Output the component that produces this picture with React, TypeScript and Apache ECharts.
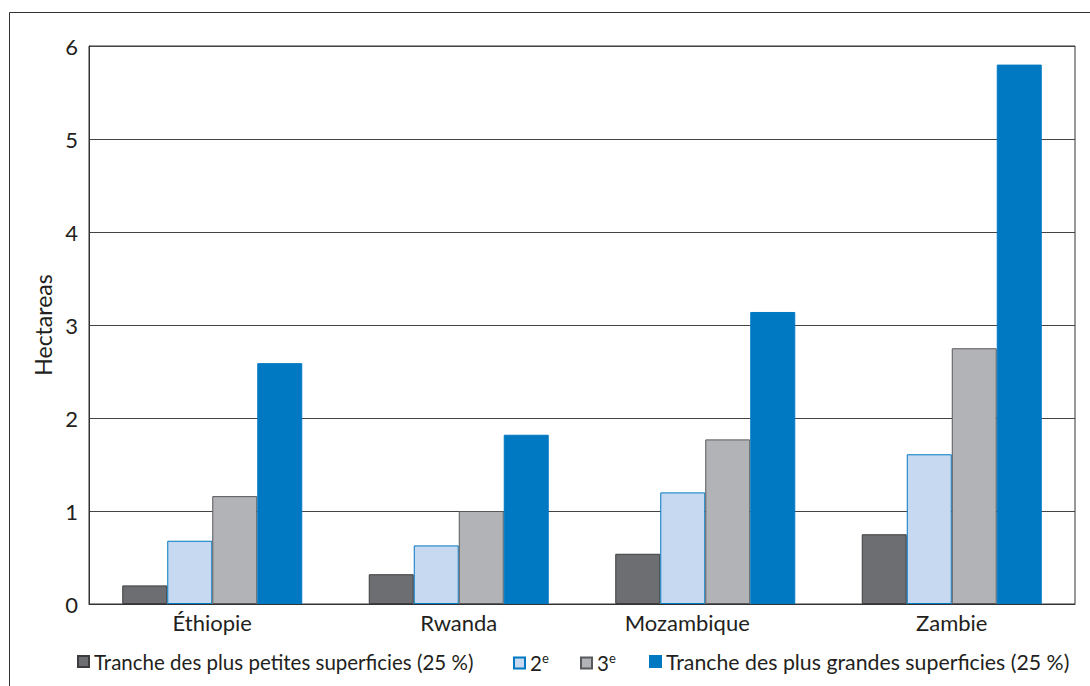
import React, { useEffect, useRef } from "react";
import * as echarts from "echarts";

const countries = ["Éthiopie", "Rwanda", "Mozambique", "Zambie"];
const smallest = [0.2, 0.32, 0.54, 0.75];
const second = [0.68, 0.63, 1.2, 1.61];
const third = [1.16, 1.0, 1.77, 2.75];
const largest = [2.59, 1.82, 3.14, 5.8];
const seriesNames = [
  "Tranche des plus petites superficies (25 %)",
  "2e",
  "3e",
  "Tranche des plus grandes superficies (25 %)",
];
const yTicks = [0, 1, 2, 3, 4, 5, 6];

const FONT = "Lato";
const INK = "#231f20";

export default function App() {
  const ref = useRef<HTMLDivElement>(null);

  useEffect(() => {
    if (!ref.current) return;
    const chart = echarts.init(ref.current, null, { renderer: "svg" });

    const fills = ["#6d6e71", "#c6d9f1", "#b1b3b6", "#0079c2"];
    const borders = ["#3d3d3f", "#0079c2", "#58595b", "#0079c2"];
    const values = [smallest, second, third, largest];

    const legendLabel = (name: string) => {
      if (name === "2e") return "2{sup|e}";
      if (name === "3e") return "3{sup|e}";
      return name;
    };
    const legendLefts = [77, 513, 580, 649];

    // Mozambique's label sits a little left of its group
    const categoryData = countries.map((c) =>
      c === "Mozambique"
        ? { value: c, textStyle: { padding: [0, 36, 0, 0] } }
        : c
    );

    chart.setOption({
      animation: false,
      backgroundColor: "#ffffff",
      graphic: [
        {
          type: "rect",
          shape: { x: 9.5, y: 12.5, width: 1100, height: 700 },
          style: { fill: "none", stroke: "#333333", lineWidth: 1 },
          silent: true,
          z: -1,
        },
      ],
      legend: seriesNames.map((n, i) => ({
        data: [n],
        left: legendLefts[i],
        top: 651,
        padding: 0,
        itemWidth: 11,
        itemHeight: 11,
        itemGap: 8,
        icon: "rect",
        formatter: legendLabel,
        textStyle: {
          fontFamily: FONT,
          fontSize: i === 3 ? 21.3 : 20.5,
          color: INK,
          rich: {
            sup: {
              fontFamily: FONT,
              fontSize: 13,
              color: INK,
              padding: [0, 0, 11, 0],
            },
          },
        },
      })),
      grid: {
        left: 89,
        top: 46,
        right: 15,
        bottom: 82,
        show: true,
        borderColor: "#333333",
        borderWidth: 1,
      },
      xAxis: {
        type: "category",
        data: categoryData,
        axisTick: { show: false },
        axisLine: { lineStyle: { color: "#333333", width: 1 } },
        axisLabel: {
          fontFamily: FONT,
          fontSize: 22,
          color: INK,
          margin: 7,
        },
      },
      yAxis: {
        type: "value",
        min: yTicks[0],
        max: yTicks[yTicks.length - 1],
        interval: 1,
        name: "Hectareas",
        nameLocation: "middle",
        nameGap: 32,
        nameTextStyle: { fontFamily: FONT, fontSize: 23, color: INK },
        axisLine: { show: true, lineStyle: { color: "#333333" } },
        axisTick: { show: false },
        axisLabel: {
          fontFamily: FONT,
          fontSize: 22,
          color: INK,
          margin: 11,
        },
        splitLine: { lineStyle: { color: "#444444", width: 1 } },
      },
      series: seriesNames.map((n, i) => ({
        name: n,
        type: "bar",
        data: values[i],
        barWidth: 45,
        barGap: "0%",
        itemStyle: {
          color: fills[i],
          borderColor: borders[i],
          borderWidth: 1,
        },
      })),
    });

    return () => chart.dispose();
  }, []);

  return (
    <div
      ref={ref}
      style={{ position: "fixed", left: 0, top: 0, width: 1090, height: 686 }}
    />
  );
}
